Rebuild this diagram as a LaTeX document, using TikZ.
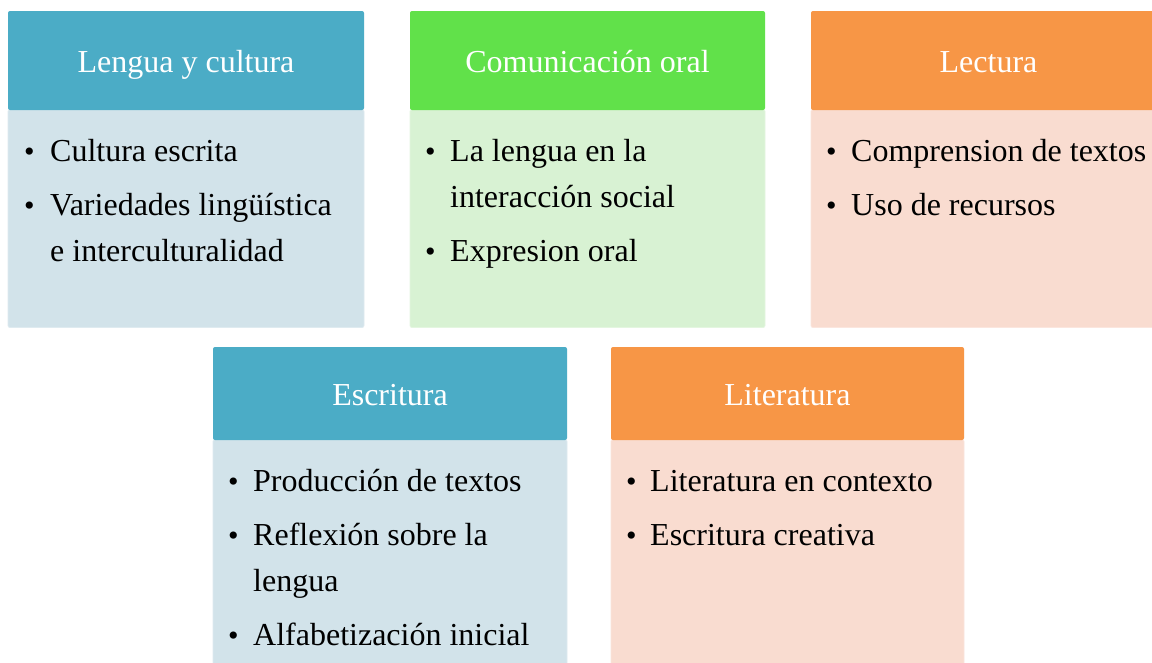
\documentclass[tikz,border=0pt]{standalone}
\usepackage{fontspec}
\setmainfont{Liberation Serif}
\definecolor{bluehd}{HTML}{4BACC6}
\definecolor{bluebd}{HTML}{D2E3EA}
\definecolor{greenhd}{HTML}{61E14A}
\definecolor{greenbd}{HTML}{D8F2D3}
\definecolor{orangehd}{HTML}{F79646}
\definecolor{orangebd}{HTML}{F9DCD0}
\begin{document}
\begin{tikzpicture}[x=1pt,y=-1pt,
  card/.style={rectangle, inner sep=0pt, outer sep=0pt, anchor=north west, rounded corners=2pt},
  hdr/.style={card, fill=#1},
  bodybox/.style={card, fill=#1, draw=#1!70!white, line width=0.8pt},
  htext/.style={anchor=base, inner sep=0pt, text=white, font=\fontsize{32}{38}\selectfont},
  itm/.style={anchor=base west, inner sep=0pt, text=black, font=\fontsize{32}{38}\selectfont},
  bul/.style={anchor=base west, inner sep=0pt, text=black, font=\fontsize{30}{38}\selectfont}
]
\useasboundingbox (0,0) rectangle (1152,662);
\clip (0,0) rectangle (1152,662);
\fill[white] (0,0) rectangle (1152,662);

% Card 1
\node[bodybox=bluebd, minimum width=356pt, minimum height=218pt] (b1) at (8,109.5) {};
\node[hdr=bluehd, minimum width=356pt, minimum height=99pt] (h1) at (8,11) {};
\node[htext] (t1) at (186,72.5) {Lengua y cultura};
\node[bul] (b1a) at (24,161) {\textbullet};
\node[itm] (i1a) at (50,161) {Cultura escrita};
\node[bul] (b1b) at (24,215) {\textbullet};
\node[itm] (i1b) at (50,215) {Variedades lingüística};
\node[itm] (i1c) at (50,261) {e interculturalidad};

% Card 2
\node[bodybox=greenbd, minimum width=355pt, minimum height=218pt] (b2) at (410,109.5) {};
\node[hdr=greenhd, minimum width=355pt, minimum height=99pt] (h2) at (410,11) {};
\node[htext] (t2) at (587.5,72.5) {Comunicación oral};
\node[bul] (b2a) at (425,161) {\textbullet};
\node[itm] (i2a) at (450,161) {La lengua en la};
\node[itm] (i2b) at (450,207) {interacción social};
\node[bul] (b2c) at (425,261) {\textbullet};
\node[itm] (i2c) at (450,261) {Expresion oral};

% Card 3
\node[bodybox=orangebd, minimum width=355pt, minimum height=218pt] (b3) at (811,109.5) {};
\node[hdr=orangehd, minimum width=355pt, minimum height=99pt] (h3) at (811,11) {};
\node[htext] (t3) at (988.5,72.5) {Lectura};
\node[bul] (b3a) at (826,161) {\textbullet};
\node[itm] (i3a) at (851,161) {Comprension de textos};
\node[bul] (b3b) at (826,215) {\textbullet};
\node[itm] (i3b) at (851,215) {Uso de recursos};

% Card 4
\node[bodybox=bluebd, minimum width=354pt, minimum height=240pt] (b4) at (213,439.5) {};
\node[hdr=bluehd, minimum width=354pt, minimum height=93pt] (h4) at (213,347) {};
\node[htext] (t4) at (390,405.5) {Escritura};
\node[bul] (b4a) at (228,491) {\textbullet};
\node[itm] (i4a) at (253,491) {Producción de textos};
\node[bul] (b4b) at (228,545) {\textbullet};
\node[itm] (i4b) at (253,545) {Reflexión sobre la};
\node[itm] (i4c) at (253,591) {lengua};
\node[bul] (b4d) at (228,645) {\textbullet};
\node[itm] (i4d) at (253,645) {Alfabetización inicial};

% Card 5
\node[bodybox=orangebd, minimum width=353pt, minimum height=240pt] (b5) at (611,439.5) {};
\node[hdr=orangehd, minimum width=353pt, minimum height=93pt] (h5) at (611,347) {};
\node[htext] (t5) at (787.5,405.5) {Literatura};
\node[bul] (b5a) at (626,491) {\textbullet};
\node[itm] (i5a) at (650,491) {Literatura en contexto};
\node[bul] (b5b) at (626,545) {\textbullet};
\node[itm] (i5b) at (650,545) {Escritura creativa};
\end{tikzpicture}
\end{document}
